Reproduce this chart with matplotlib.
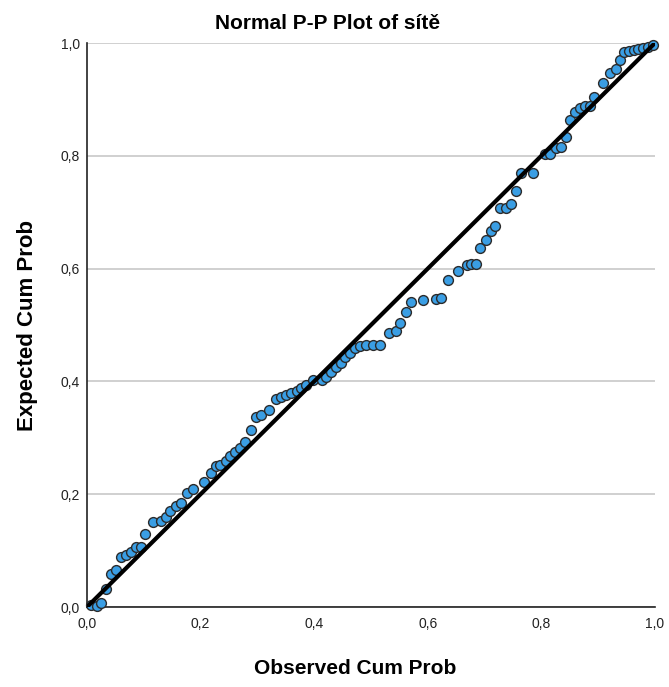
import matplotlib.pyplot as plt
from matplotlib.ticker import FuncFormatter

# observed vs expected cumulative probabilities
observed = [0.007, 0.018, 0.025, 0.033, 0.042, 0.051, 0.060, 0.068, 0.077, 0.086,
            0.095, 0.103, 0.117, 0.130, 0.139, 0.147, 0.156, 0.165, 0.176, 0.187,
            0.206, 0.219, 0.227, 0.234, 0.244, 0.252, 0.261, 0.269, 0.278, 0.289,
            0.298, 0.307, 0.320, 0.333, 0.342, 0.351, 0.360, 0.369, 0.377, 0.386,
            0.398, 0.413, 0.421, 0.430, 0.439, 0.448, 0.454, 0.463, 0.472, 0.481,
            0.492, 0.504, 0.516, 0.531, 0.544, 0.552, 0.562, 0.570, 0.591, 0.614,
            0.623, 0.636, 0.654, 0.669, 0.677, 0.685, 0.692, 0.703, 0.711, 0.718,
            0.728, 0.737, 0.746, 0.755, 0.764, 0.785, 0.806, 0.815, 0.826, 0.834,
            0.843, 0.850, 0.859, 0.868, 0.877, 0.886, 0.893, 0.908, 0.921, 0.931,
            0.939, 0.945, 0.954, 0.963, 0.971, 0.979, 0.988, 0.996]
expected = [0.004, 0.002, 0.007, 0.032, 0.059, 0.066, 0.089, 0.092, 0.098, 0.106,
            0.107, 0.129, 0.150, 0.153, 0.160, 0.171, 0.179, 0.184, 0.202, 0.209,
            0.222, 0.238, 0.250, 0.252, 0.259, 0.267, 0.274, 0.282, 0.292, 0.314,
            0.337, 0.340, 0.349, 0.368, 0.372, 0.376, 0.379, 0.383, 0.388, 0.394,
            0.403, 0.403, 0.408, 0.417, 0.426, 0.433, 0.444, 0.451, 0.459, 0.462,
            0.465, 0.465, 0.465, 0.485, 0.489, 0.503, 0.523, 0.540, 0.544, 0.546,
            0.548, 0.580, 0.596, 0.606, 0.608, 0.608, 0.637, 0.651, 0.667, 0.675,
            0.707, 0.707, 0.714, 0.737, 0.770, 0.769, 0.804, 0.804, 0.813, 0.815,
            0.833, 0.864, 0.878, 0.885, 0.888, 0.889, 0.905, 0.929, 0.946, 0.954,
            0.970, 0.984, 0.985, 0.987, 0.989, 0.991, 0.993, 0.997]
ticks = [0.0, 0.2, 0.4, 0.6, 0.8, 1.0]

plt.rcParams['font.family'] = ['Liberation Sans', 'DejaVu Sans']

fig = plt.figure(figsize=(6.69, 6.87), dpi=100)
ax = fig.add_axes([0.130, 0.1164, 0.849, 0.821])

ax.scatter(observed, expected, s=50, facecolor='#3a9ee4', edgecolor='#2b2b2b',
           linewidth=1.0, zorder=3, clip_on=False)
ax.plot([0, 1], [0, 1], color='black', linewidth=3.0, zorder=4,
        solid_capstyle='butt')

ax.set_xlim(0, 1)
ax.set_ylim(0, 1)
ax.set_xticks(ticks)
ax.set_yticks(ticks)
comma = FuncFormatter(lambda v, pos: f"{v:.1f}".replace('.', ','))
ax.xaxis.set_major_formatter(comma)
ax.yaxis.set_major_formatter(comma)
ax.tick_params(length=0, labelsize=10, colors='#222222', pad=5)
ax.tick_params(axis='x', pad=7)

ax.yaxis.grid(True, color='#c8c8c8', linewidth=1.2, zorder=0)
ax.set_axisbelow(True)
for side in ['top', 'right']:
    ax.spines[side].set_visible(False)
for side in ['left', 'bottom']:
    ax.spines[side].set_color('#222222')
    ax.spines[side].set_linewidth(1.2)

ax.set_title('Normal P-P Plot of sítě', fontsize=15, fontweight='bold',
             x=0.423, pad=10)
ax.set_xlabel('Observed Cum Prob', fontsize=15, fontweight='bold',
              x=0.472, labelpad=20)
ax.set_ylabel('Expected Cum Prob', fontsize=16, fontweight='bold', labelpad=16)

fig.savefig('out.png', dpi=100, facecolor='white')
